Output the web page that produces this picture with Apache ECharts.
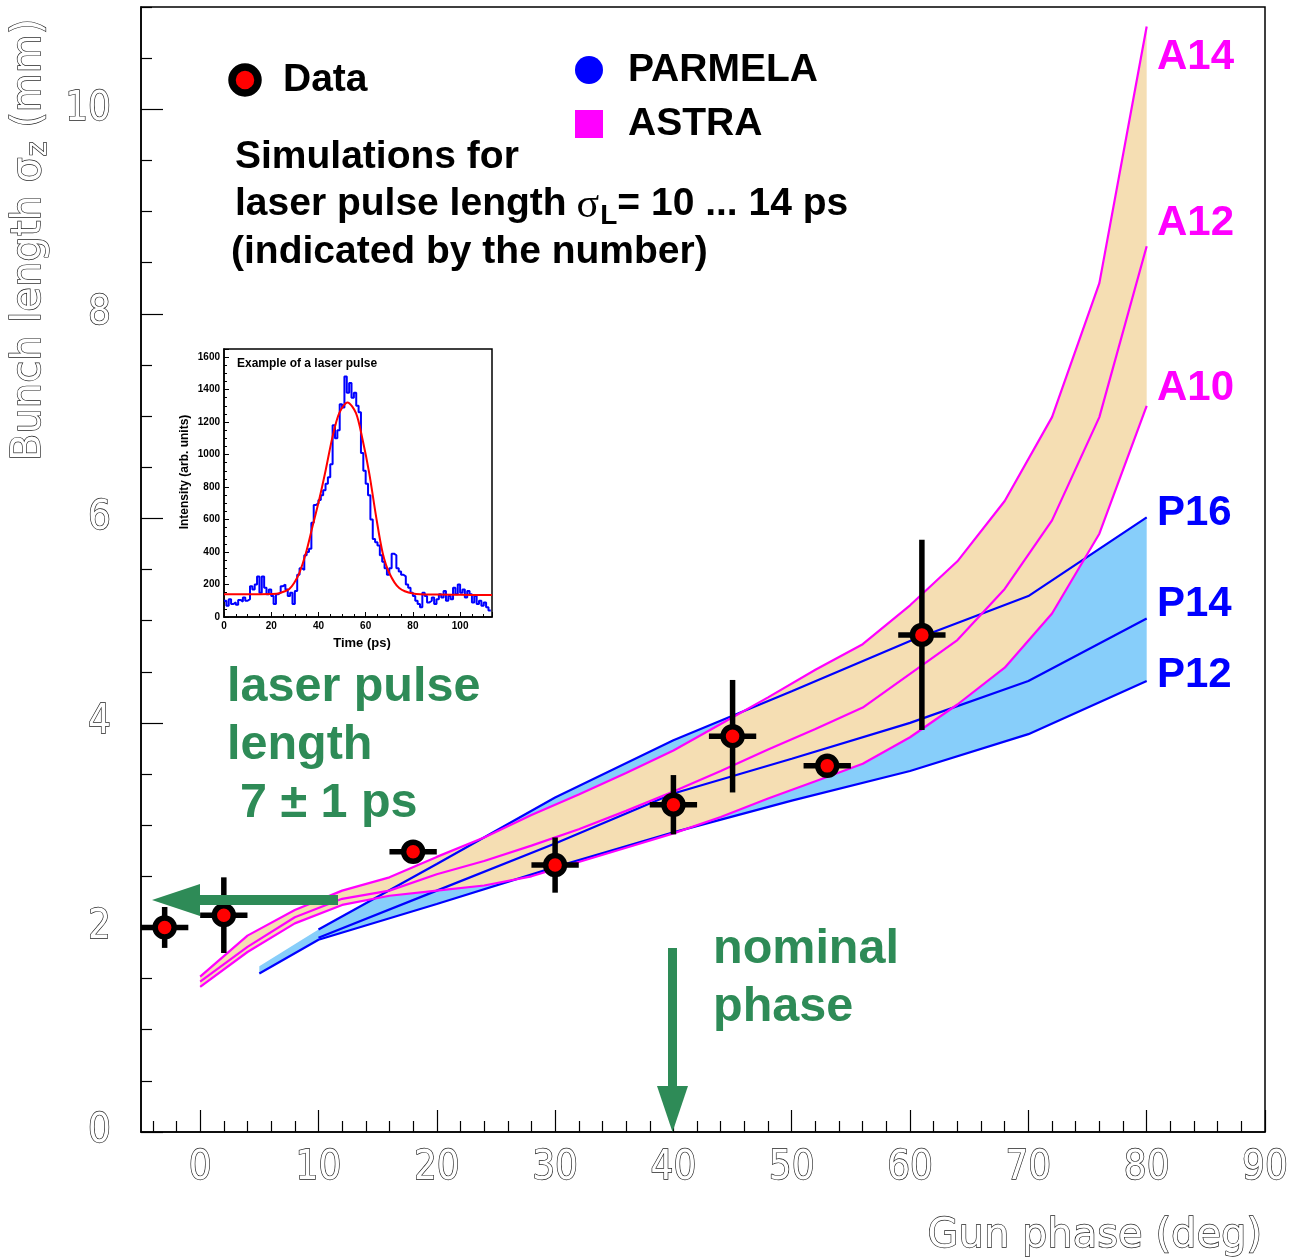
<!DOCTYPE html>
<html><head><meta charset="utf-8">
<script src="https://cdn.jsdelivr.net/npm/echarts@6/dist/echarts.min.js"></script>
<style>html,body{margin:0;padding:0;background:#fff}#c{width:1303px;height:1259px}</style>
</head><body><div id="c"></div>
<script>
// ---------------- data ----------------
const DATA_X    = [-3, 2, 18, 30, 40, 45, 53, 61];
const DATA_Y    = [2.00, 2.12, 2.74, 2.61, 3.20, 3.87, 3.58, 4.86];
const DATA_XERR = [2, 2, 2, 2, 2, 2, 2, 2];
const DATA_YERR = [0.20, 0.37, 0.08, 0.27, 0.29, 0.55, 0.08, 0.93];

const ASTRA_X = [0, 4, 8, 12, 16, 20, 24, 28, 32, 36, 40, 44, 48, 52, 56, 60, 64, 68, 72, 76, 80];
const A14 = [1.52, 1.92, 2.17, 2.36, 2.49, 2.69, 2.88, 3.10, 3.30, 3.51, 3.73, 3.99, 4.25, 4.52, 4.77, 5.15, 5.58, 6.17, 6.99, 8.30, 10.81];
const A12 = [1.47, 1.81, 2.10, 2.28, 2.36, 2.52, 2.65, 2.80, 2.96, 3.14, 3.33, 3.53, 3.74, 3.94, 4.15, 4.48, 4.81, 5.31, 5.98, 6.99, 8.66];
const A10 = [1.42, 1.76, 2.04, 2.22, 2.31, 2.36, 2.41, 2.50, 2.64, 2.78, 2.92, 3.08, 3.26, 3.43, 3.60, 3.86, 4.18, 4.54, 5.07, 5.85, 7.10];

const PAR_X = [5, 10, 20, 30, 40, 50, 60, 70, 80];
const P12 = [1.55, 1.88, 2.23, 2.59, 2.93, 3.24, 3.53, 3.89, 4.41];
const P14 = [null, 1.90, 2.36, 2.82, 3.31, 3.65, 4.00, 4.41, 5.02];
const P16 = [1.62, 1.98, 2.62, 3.27, 3.83, 4.31, 4.80, 5.24, 6.01];

const X_TICKS = [0, 10, 20, 30, 40, 50, 60, 70, 80, 90];
const Y_TICKS = [0, 2, 4, 6, 8, 10];

// inset: example laser pulse (1 ps bins starting at 0 ps)
const PULSE_I = [100, 70, 110, 80, 90, 75, 105, 95, 120, 100,
  110, 190, 170, 200, 250, 150, 250, 180, 140, 170,
  130, 80, 140, 150, 190, 200, 170, 130, 150, 80,
  160, 260, 300, 290, 380, 400, 420, 580, 690, 700,
  720, 750, 780, 820, 860, 940, 1180, 1100, 1150, 1310,
  1290, 1480, 1380, 1440, 1350, 1380, 1300, 1260, 1010, 900,
  820, 750, 600, 480, 460, 440, 380, 340, 300, 260,
  300, 390, 380, 300, 280, 260, 250, 200, 180, 150,
  130, 100, 80, 60, 150, 130, 90, 100, 120, 80,
  110, 140, 120, 160, 100, 130, 110, 180, 140, 200,
  150, 170, 120, 160, 140, 90, 130, 80, 100, 70,
  90, 60, 40];
const FIT_T = [0, 10, 20, 23.4, 27.6, 29.7, 31.9, 34.7, 37.5, 40.3, 43.1, 46, 48.8, 52.3, 55.9, 58.7, 61.5, 64.4, 67.2, 70, 74.2, 80, 90, 100, 113.5];
const FIT_I = [140, 140, 142, 146, 172, 209, 270, 394, 558, 722, 907, 1112, 1255, 1321, 1255, 1091, 886, 620, 394, 271, 178, 145, 138, 137, 135];

// ---------------- helpers ----------------
const pairs = (xs, ys) => xs.map((x, i) => [x, ys[i]]).filter(p => p[1] != null);
const ctx = document.createElement('canvas').getContext('2d');
const tw = (t, f) => { ctx.font = f; return ctx.measureText(t).width; };

function band(xs, top, bottom, color) {
  return function (params, api) {
    const pts = [];
    for (let i = 0; i < xs.length; i++) if (top[i] != null) pts.push(api.coord([xs[i], top[i]]));
    for (let i = xs.length - 1; i >= 0; i--) if (bottom[i] != null) pts.push(api.coord([xs[i], bottom[i]]));
    return { type: 'polygon', shape: { points: pts }, style: { fill: color } };
  };
}
function errBar(params, api) {
  const x = api.value(0), y = api.value(1), ex = api.value(2), ey = api.value(3);
  const l = api.coord([x - ex, y]), r = api.coord([x + ex, y]);
  const t = api.coord([x, y + ey]), b = api.coord([x, y - ey]);
  const st = { stroke: '#000', lineWidth: 5.5 };
  return { type: 'group', children: [
    { type: 'line', shape: { x1: l[0], y1: l[1], x2: r[0], y2: r[1] }, style: st },
    { type: 'line', shape: { x1: t[0], y1: t[1], x2: b[0], y2: b[1] }, style: st }
  ]};
}

const xMinor = [], yMinor = [];
for (let v = -4; v <= 90; v += 2) if (v % 10 !== 0) xMinor.push(v);
for (let v = 0.5; v <= 11; v += 0.5) if (Math.abs(v % 2) > 1e-9) yMinor.push(v);

const TICKFONT = '"DejaVu Sans Condensed","DejaVu Sans",sans-serif';
const hollow = { color: '#ffffff', textBorderColor: '#1a1a1a', textBorderWidth: 1.3, fontFamily: TICKFONT, fontSize: 40 };

const BF = (s) => 'bold ' + s + 'px "Liberation Sans", Arial, sans-serif';
const GREEN = '#2E8B57', MAG = '#FF00FF', BLUE = '#0000FF';

function txt(x, y, text, font, fill, align, extra) {
  return Object.assign({ type: 'text', x: x, y: y, z: 100,
    style: { text: text, font: font, fill: fill || '#000', align: align || 'left', verticalAlign: 'middle' } }, extra || {});
}

const graphic = [];
// legend
graphic.push({ type: 'circle', z: 100, shape: { cx: 245, cy: 80, r: 13 }, style: { fill: '#ff0000', stroke: '#000', lineWidth: 7.5 } });
graphic.push(txt(283, 80, 'Data', BF(39)));
graphic.push({ type: 'circle', z: 100, shape: { cx: 589, cy: 70, r: 14 }, style: { fill: BLUE } });
graphic.push(txt(628, 70, 'PARMELA', BF(39)));
graphic.push({ type: 'rect', z: 100, shape: { x: 575, y: 110, width: 28, height: 28 }, style: { fill: MAG } });
graphic.push(txt(628, 124, 'ASTRA', BF(39)));
graphic.push(txt(235, 157, 'Simulations for', BF(39)));
{
  let x = 235;
  graphic.push(txt(x, 204, 'laser pulse length', BF(39)));
  x += tw('laser pulse length', BF(39)) + 10;
  const sf = '42px "Liberation Serif", "DejaVu Serif", serif';
  graphic.push(txt(x, 206, 'σ', sf));
  x += tw('σ', sf) + 1;
  graphic.push(txt(x, 216, 'L', BF(28)));
  x += tw('L', BF(28));
  graphic.push(txt(x, 204, '= 10 ... 14 ps', BF(39)));
}
graphic.push(txt(231, 252, '(indicated by the number)', BF(39)));
// green annotations
graphic.push(txt(227, 688, 'laser pulse', BF(48.5), GREEN));
graphic.push(txt(227, 746, 'length', BF(48.5), GREEN));
graphic.push(txt(240, 804, '7 ± 1 ps', BF(48.5), GREEN));
graphic.push(txt(713, 950, 'nominal', BF(48.5), GREEN));
graphic.push(txt(713, 1008, 'phase', BF(48.5), GREEN));
graphic.push({ type: 'rect', z: 100, shape: { x: 199, y: 895, width: 139, height: 10 }, style: { fill: GREEN } });
graphic.push({ type: 'polygon', z: 100, shape: { points: [[152, 900], [200, 884], [200, 916]] }, style: { fill: GREEN } });
graphic.push({ type: 'rect', z: 100, shape: { x: 668, y: 948, width: 9, height: 139 }, style: { fill: GREEN } });
graphic.push({ type: 'polygon', z: 100, shape: { points: [[657, 1086], [688, 1086], [672.5, 1132]] }, style: { fill: GREEN } });
// curve labels
graphic.push(txt(1157, 57, 'A14', BF(42), MAG));
graphic.push(txt(1157, 223, 'A12', BF(42), MAG));
graphic.push(txt(1157, 388, 'A10', BF(42), MAG));
graphic.push(txt(1157, 513, 'P16', BF(42), BLUE));
graphic.push(txt(1157, 604, 'P14', BF(42), BLUE));
graphic.push(txt(1157, 675, 'P12', BF(42), BLUE));
// axis titles
const TF = '40px "DejaVu Sans", sans-serif';
const TFs = '28px "DejaVu Sans", sans-serif';
const hol = { fill: '#fff', stroke: '#1a1a1a', lineWidth: 1.3 };
graphic.push({ type: 'text', x: 1262, y: 1237, z: 100, style: Object.assign({ text: 'Gun phase (deg)', font: TF, align: 'right', verticalAlign: 'middle' }, hol) });
{
  const w1 = tw('Bunch length σ', TF), w2 = tw('z', TFs);
  graphic.push({ type: 'group', x: 30, y: 461, rotation: Math.PI / 2, z: 100, children: [
    { type: 'text', x: 0, y: 0, style: Object.assign({ text: 'Bunch length σ', font: TF, align: 'left', verticalAlign: 'middle' }, hol) },
    { type: 'text', x: w1 + 1, y: 9, style: Object.assign({ text: 'z', font: TFs, align: 'left', verticalAlign: 'middle' }, hol) },
    { type: 'text', x: w1 + w2 + 2, y: 0, style: Object.assign({ text: ' (mm)', font: TF, align: 'left', verticalAlign: 'middle' }, hol) }
  ]});
}
// inset texts
graphic.push(txt(237, 364, 'Example of a laser pulse', BF(12)));
graphic.push(txt(362, 643, 'Time (ps)', BF(13), '#000', 'center'));
graphic.push(txt(185, 472, 'Intensity (arb. units)', BF(12), '#000', 'center', { rotation: Math.PI / 2 }));

const insetLabel = { fontFamily: '"Liberation Sans", Arial, sans-serif', fontWeight: 'bold', fontSize: 10, color: '#000', formatter: (v) => String(v) };

const option = {
  animation: false,
  backgroundColor: '#ffffff',
  grid: [
    { left: 141, top: 7, width: 1124, height: 1125, show: true, borderColor: '#000', borderWidth: 1.5, backgroundColor: 'rgba(0,0,0,0)' },
    { left: 224, top: 349, width: 268, height: 268, show: true, borderColor: '#000', borderWidth: 1.5, backgroundColor: '#fff' }
  ],
  xAxis: [
    { gridIndex: 0, type: 'value', min: -5, max: 90, position: 'bottom',
      axisLine: { onZero: false, lineStyle: { color: '#000', width: 1.5 } },
      axisTick: { inside: true, length: 22, customValues: X_TICKS, lineStyle: { color: '#000', width: 1.2 } },
      axisLabel: Object.assign({ customValues: X_TICKS, margin: 17 }, hollow),
      splitLine: { show: false } },
    { gridIndex: 0, type: 'value', min: -5, max: 90, position: 'bottom',
      axisLine: { show: false, onZero: false },
      axisTick: { inside: true, length: 11, customValues: xMinor, lineStyle: { color: '#000', width: 1.2 } },
      axisLabel: { show: false }, splitLine: { show: false } },
    { gridIndex: 1, type: 'value', min: 0, max: 113.5, interval: 20, position: 'bottom',
      axisLine: { onZero: false, lineStyle: { color: '#000', width: 1.5 } },
      axisTick: { inside: true, length: 5, lineStyle: { color: '#000' } },
      minorTick: { show: true, splitNumber: 4, length: 3, lineStyle: { color: '#000' } },
      axisLabel: Object.assign({ margin: 4, showMaxLabel: false }, insetLabel),
      splitLine: { show: false } }
  ],
  yAxis: [
    { gridIndex: 0, type: 'value', min: 0, max: 11, position: 'left',
      axisLine: { onZero: false, lineStyle: { color: '#000', width: 1.5 } },
      axisTick: { inside: true, length: 22, customValues: Y_TICKS, lineStyle: { color: '#000', width: 1.2 } },
      axisLabel: Object.assign({ customValues: Y_TICKS, margin: 30 }, hollow),
      splitLine: { show: false } },
    { gridIndex: 0, type: 'value', min: 0, max: 11, position: 'left',
      axisLine: { show: false, onZero: false },
      axisTick: { inside: true, length: 11, customValues: yMinor, lineStyle: { color: '#000', width: 1.2 } },
      axisLabel: { show: false }, splitLine: { show: false } },
    { gridIndex: 1, type: 'value', min: 0, max: 1650, interval: 200, position: 'left',
      axisLine: { onZero: false, lineStyle: { color: '#000', width: 1.5 } },
      axisTick: { inside: true, length: 5, lineStyle: { color: '#000' } },
      minorTick: { show: true, splitNumber: 4, length: 3, lineStyle: { color: '#000' } },
      axisLabel: Object.assign({ margin: 4, showMaxLabel: false }, insetLabel),
      splitLine: { show: false } }
  ],
  series: [
    { type: 'custom', name: 'PARMELA band', xAxisIndex: 0, yAxisIndex: 0, z: 1, silent: true, data: [[0, 0]], renderItem: band(PAR_X, P16, P12, '#87CEFA') },
    { type: 'custom', name: 'ASTRA band', xAxisIndex: 0, yAxisIndex: 0, z: 2, silent: true, data: [[0, 0]], renderItem: band(ASTRA_X, A14, A10, '#F5DEB3') },
    { type: 'line', name: 'P12', xAxisIndex: 0, yAxisIndex: 0, z: 3, silent: true, symbol: 'none', data: pairs(PAR_X, P12), lineStyle: { color: BLUE, width: 2.2 } },
    { type: 'line', name: 'P14', xAxisIndex: 0, yAxisIndex: 0, z: 3, silent: true, symbol: 'none', data: pairs(PAR_X, P14), lineStyle: { color: BLUE, width: 2.2 } },
    { type: 'line', name: 'P16', xAxisIndex: 0, yAxisIndex: 0, z: 3, silent: true, symbol: 'none', data: pairs(PAR_X, P16).slice(1), lineStyle: { color: BLUE, width: 2.2 } },
    { type: 'line', name: 'A10', xAxisIndex: 0, yAxisIndex: 0, z: 3, silent: true, symbol: 'none', data: pairs(ASTRA_X, A10), lineStyle: { color: MAG, width: 2.2 } },
    { type: 'line', name: 'A12', xAxisIndex: 0, yAxisIndex: 0, z: 3, silent: true, symbol: 'none', data: pairs(ASTRA_X, A12), lineStyle: { color: MAG, width: 2.2 } },
    { type: 'line', name: 'A14', xAxisIndex: 0, yAxisIndex: 0, z: 3, silent: true, symbol: 'none', data: pairs(ASTRA_X, A14), lineStyle: { color: MAG, width: 2.2 } },
    { type: 'custom', name: 'errors', xAxisIndex: 0, yAxisIndex: 0, z: 4, silent: true,
      data: DATA_X.map((x, i) => [x, DATA_Y[i], DATA_XERR[i], DATA_YERR[i]]), renderItem: errBar },
    { type: 'scatter', name: 'Data', xAxisIndex: 0, yAxisIndex: 0, z: 5, silent: true, symbol: 'circle', symbolSize: 19,
      data: pairs(DATA_X, DATA_Y), itemStyle: { color: '#ff0000', borderColor: '#000', borderWidth: 5.5, opacity: 1 } },
    { type: 'line', name: 'pulse', xAxisIndex: 2, yAxisIndex: 2, z: 6, silent: true, symbol: 'none', step: 'end',
      data: PULSE_I.map((v, i) => [i, v]).concat([[PULSE_I.length, PULSE_I[PULSE_I.length - 1]]]),
      lineStyle: { color: BLUE, width: 2 } },
    { type: 'line', name: 'fit', xAxisIndex: 2, yAxisIndex: 2, z: 7, silent: true, symbol: 'none', smooth: 0.3,
      data: pairs(FIT_T, FIT_I), lineStyle: { color: '#ff0000', width: 2 } }
  ],
  graphic: graphic
};
const chart = echarts.init(document.getElementById('c'), null, { renderer: 'canvas' });
chart.setOption(option);
</script></body></html>
